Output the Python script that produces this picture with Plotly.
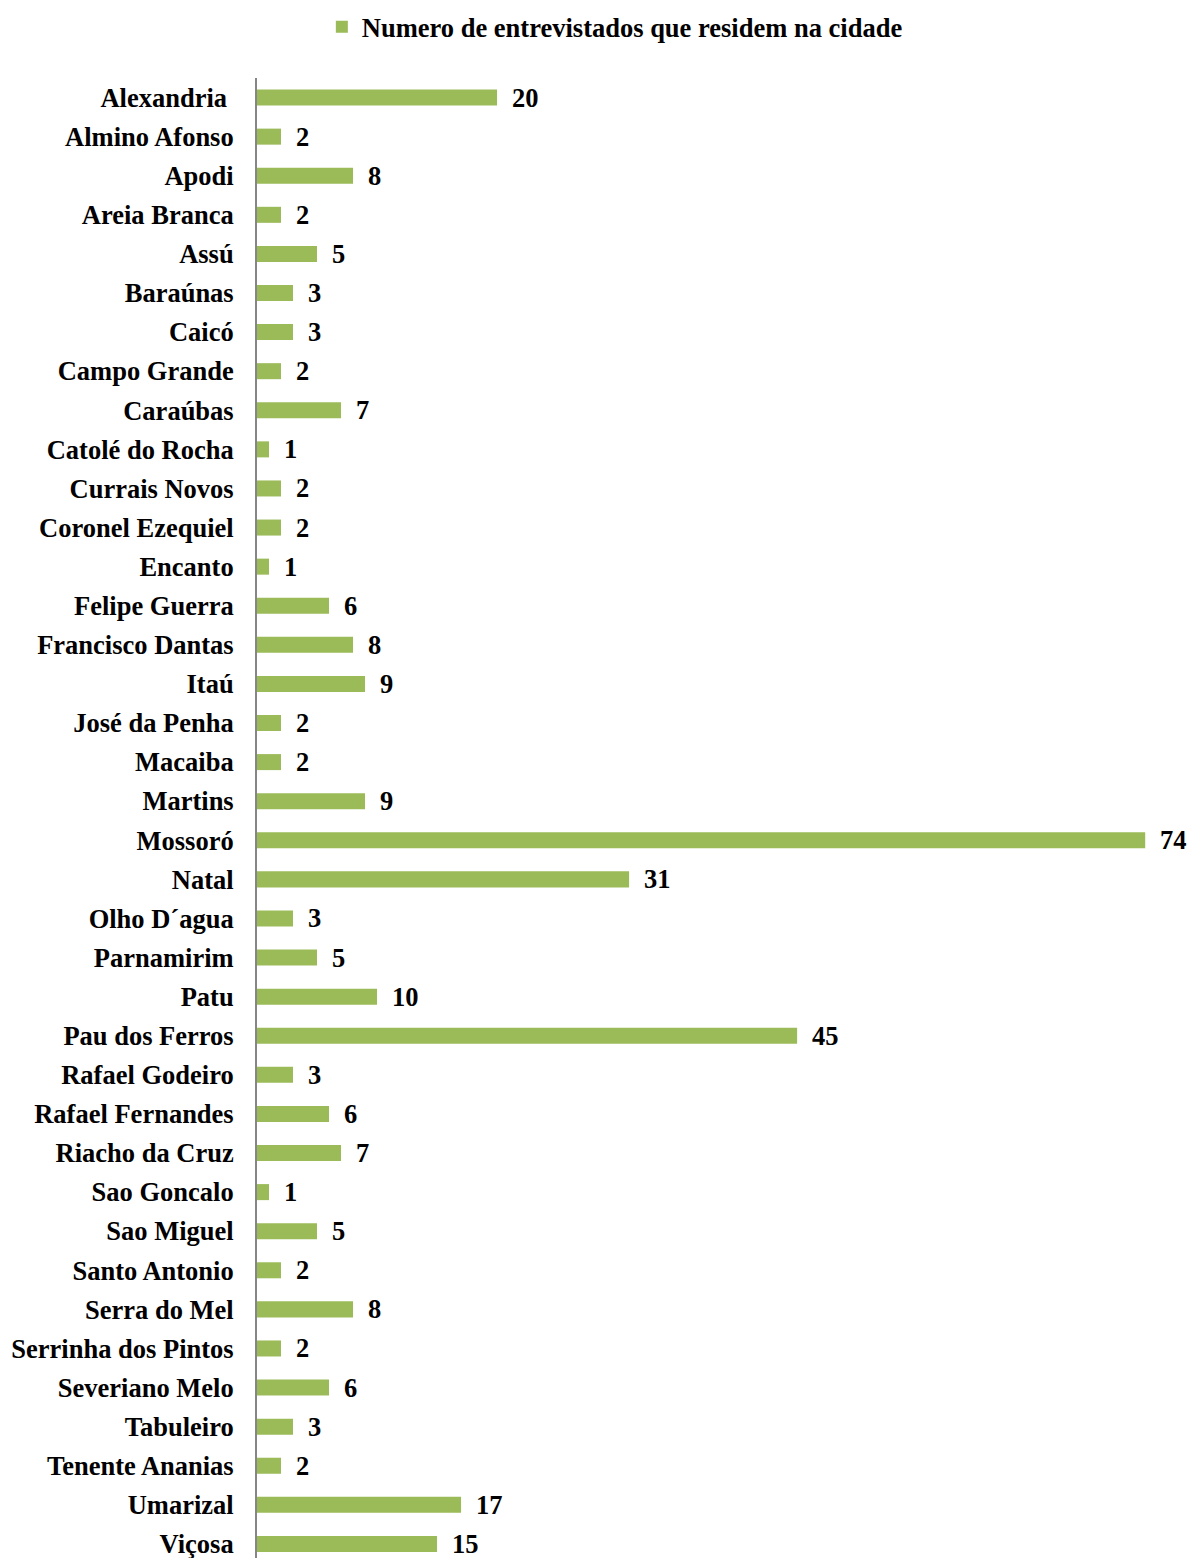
import plotly.graph_objects as go

cities = ["Alexandria\u00a0", "Almino Afonso", "Apodi", "Areia Branca", "Assú", "Baraúnas",
          "Caicó", "Campo Grande", "Caraúbas", "Catolé do Rocha", "Currais Novos",
          "Coronel Ezequiel", "Encanto", "Felipe Guerra", "Francisco Dantas", "Itaú",
          "José da Penha", "Macaiba", "Martins", "Mossoró", "Natal", "Olho D´agua",
          "Parnamirim", "Patu", "Pau dos Ferros", "Rafael Godeiro", "Rafael Fernandes",
          "Riacho da Cruz", "Sao Goncalo", "Sao Miguel", "Santo Antonio", "Serra do Mel",
          "Serrinha dos Pintos", "Severiano Melo", "Tabuleiro", "Tenente Ananias",
          "Umarizal", "Viçosa"]
counts = [20, 2, 8, 2, 5, 3, 3, 2, 7, 1, 2, 2, 1, 6, 8, 9, 2, 2, 9, 74, 31, 3, 5, 10,
          45, 3, 6, 7, 1, 5, 2, 8, 2, 6, 3, 2, 17, 15]
series_name = "Numero de entrevistados que residem na cidade"

FONT = "Liberation Serif, Times New Roman, serif"
GREEN = "#9BBB59"
FS = 26.5

fig = go.Figure()
fig.add_trace(go.Bar(
    y=cities, x=counts, orientation="h", name=series_name,
    marker=dict(color=GREEN, line=dict(width=0)),
    showlegend=True,
))

for c, v in zip(cities, counts):
    fig.add_annotation(x=v, y=c, text=str(v), showarrow=False, xanchor="left",
                       xshift=14, yshift=0, borderpad=0,
                       font=dict(family=FONT, size=FS, color="black", weight="bold"))

fig.update_layout(
    width=1192, height=1558,
    margin=dict(l=257, r=0, t=78, b=0),
    paper_bgcolor="white", plot_bgcolor="white",
    bargap=0.59,
    showlegend=True,
    legend=dict(orientation="h", xref="container", yref="container",
                x=0.27, xanchor="left", y=1 - 27 / 1558, yanchor="middle",
                font=dict(family=FONT, size=FS, color="black", weight="bold"),
                bgcolor="rgba(0,0,0,0)"),
    xaxis=dict(range=[0, 77.9], showgrid=False, zeroline=False, showticklabels=False,
               showline=False, fixedrange=True),
    yaxis=dict(type="category", range=[37.36, -0.5], autorange=False,
               showgrid=False, zeroline=False, showline=True, linecolor="#868686",
               linewidth=2, ticks="", ticklabelstandoff=16,
               tickfont=dict(family=FONT, size=FS, color="black", weight="bold")),
)

fig.write_html("out.html")
